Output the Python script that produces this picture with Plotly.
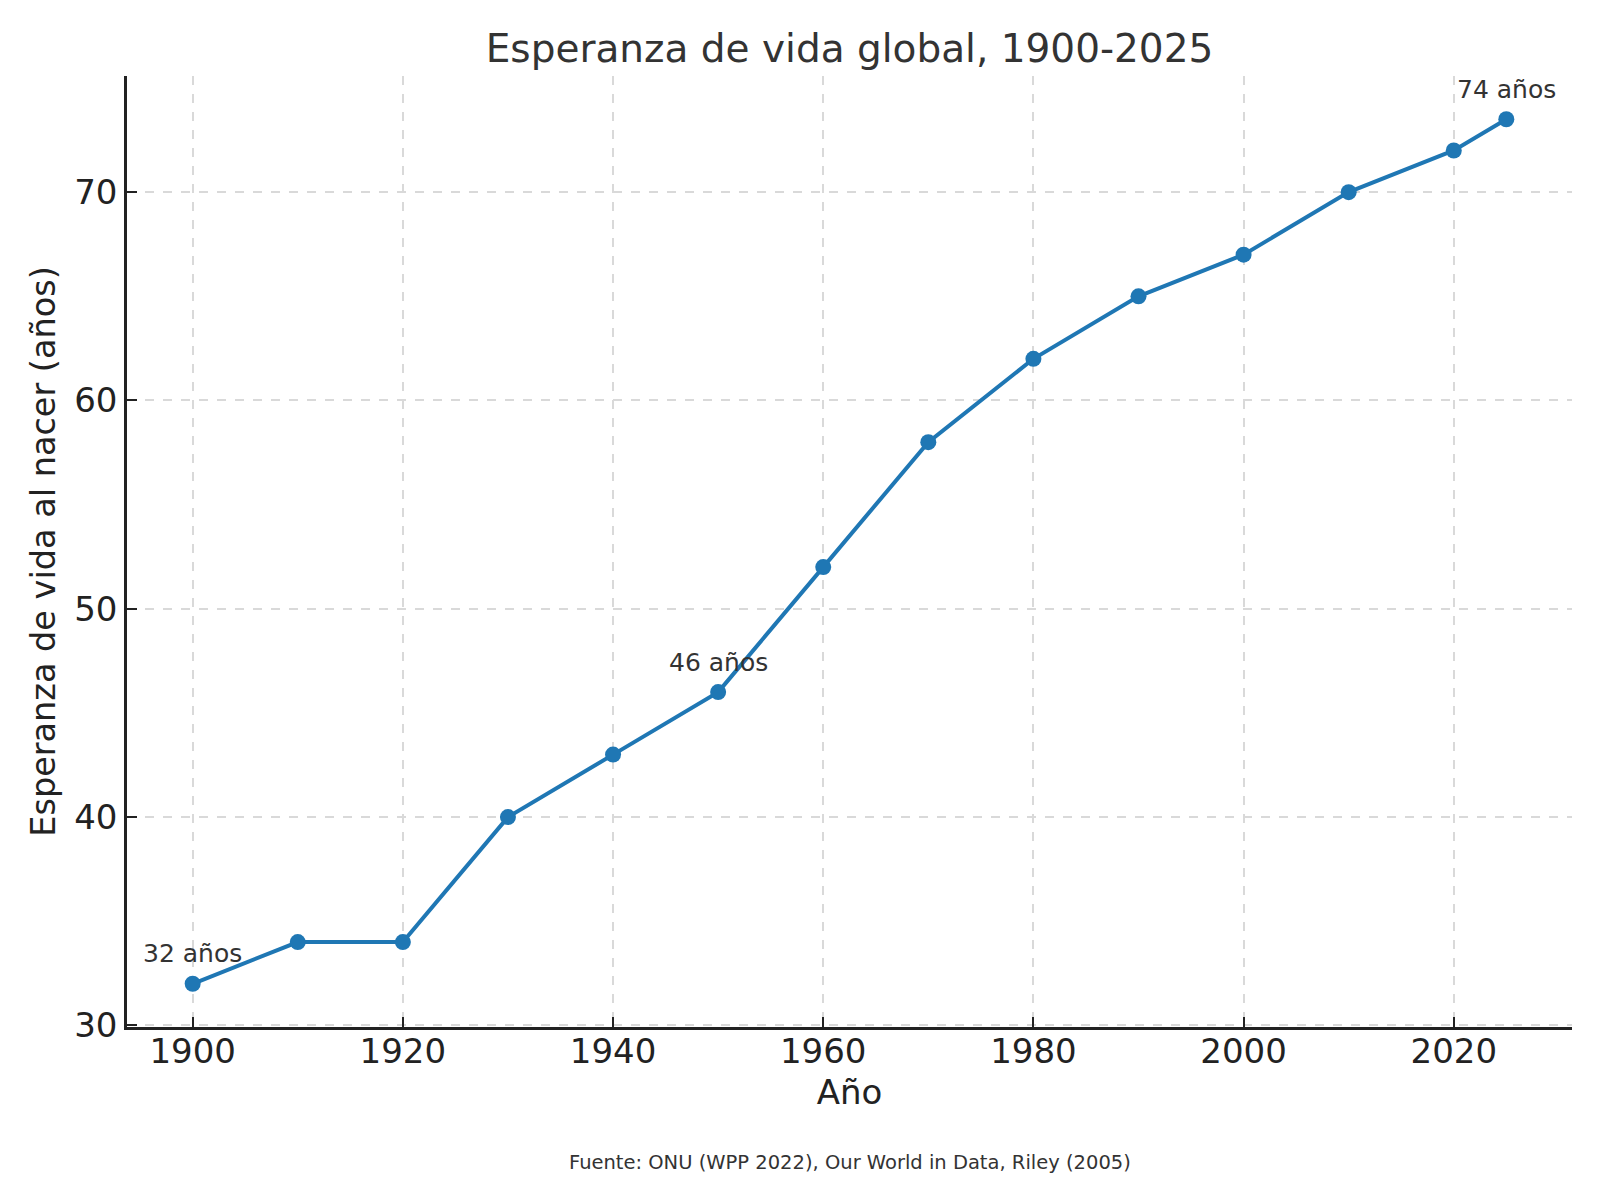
import plotly.graph_objects as go

# valores
years = [1900, 1910, 1920, 1930, 1940, 1950, 1960, 1970, 1980, 1990, 2000, 2010, 2020, 2025]
life_exp = [32, 34, 34, 40, 43, 46, 52, 58, 62, 65, 67, 70, 72, 73.5]

label_years = [1900, 1950, 2025]
label_vals = [32, 46, 73.5]
label_texts = ["32 años", "46 años", "74 años"]

x_ticks = [1900, 1920, 1940, 1960, 1980, 2000, 2020]
y_ticks = [30, 40, 50, 60, 70]

FONT = "DejaVu Sans"
BLUE = "#1f77b4"
DARK = "#222222"

# the page body adds an 8px margin, so the figure is 16px smaller than the window
W, H = 1584, 1184

fig = go.Figure()
fig.add_trace(go.Scatter(
    x=years, y=life_exp, mode="lines+markers",
    line=dict(color=BLUE, width=4),
    marker=dict(color=BLUE, size=16),
    showlegend=False,
))

for yr, val, txt in zip(label_years, label_vals, label_texts):
    fig.add_annotation(x=yr, y=val, text=txt, showarrow=False, yshift=30,
                       font=dict(family=FONT, size=25, color="#333333"))

fig.add_annotation(x=0.5, y=-0.143, xref="paper", yref="paper", showarrow=False,
                   yanchor="middle",
                   text="Fuente: ONU (WPP 2022), Our World in Data, Riley (2005)",
                   font=dict(family=FONT, size=19.5, color="#333333"))

axis_common = dict(
    showline=True, linecolor=DARK, linewidth=2.5,
    ticks="inside", ticklen=10, tickwidth=2, tickcolor=DARK,
    showgrid=True, gridcolor="#d9d9d9", griddash="dash", gridwidth=1.5,
    zeroline=False, automargin=False,
    tickfont=dict(family=FONT, size=34, color=DARK),
)

fig.update_xaxes(range=[1893.75, 2031.25], tickvals=x_ticks, ticklabelstandoff=-8,
                 title=dict(text="Año", font=dict(family=FONT, size=34, color=DARK), standoff=11),
                 **axis_common)
fig.update_yaxes(range=[29.925, 75.575], tickvals=y_ticks,
                 title=dict(text="Esperanza de vida al nacer (años)",
                            font=dict(family=FONT, size=33.5, color=DARK), standoff=9),
                 **axis_common)

fig.update_layout(
    width=W, height=H,
    margin=dict(l=119, r=20, t=68, b=165),
    paper_bgcolor="white", plot_bgcolor="white",
    title=dict(text="Esperanza de vida global, 1900-2025", xref="paper", x=0.5, xanchor="center",
               yref="container", y=1 - 40 / H, yanchor="middle",
               font=dict(family=FONT, size=39, color="#333333")),
)

fig.write_html("out.html")
